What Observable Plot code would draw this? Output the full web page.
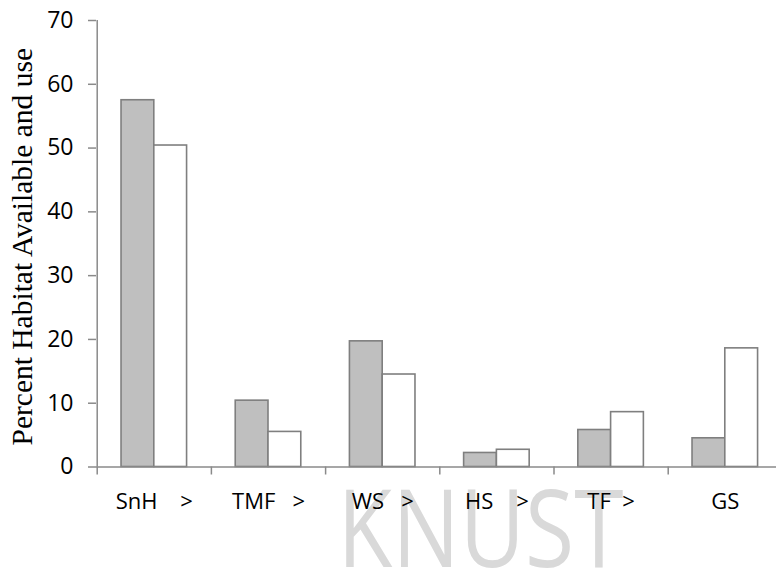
<!DOCTYPE html>
<html>
<head>
<meta charset="utf-8">
<script src="https://cdn.jsdelivr.net/npm/d3@7"></script>
<script src="https://cdn.jsdelivr.net/npm/@observablehq/plot@0.6"></script>
<style>
  html, body { margin: 0; padding: 0; background: #fff; }
  svg text { white-space: pre; }
</style>
</head>
<body>
<div id="chart"></div>
<script>
// Data
const categories = ["SnH", "TMF", "WS", "HS", "TF", "GS"];
const tickLabels = ["SnH    >", "TMF   >", "WS   >", "HS    >", "TF  >", "GS"];
const available = [57.5, 10.4, 19.7, 2.2, 5.8, 4.5];
const used = [50.4, 5.5, 14.5, 2.7, 8.6, 18.6];
const yTicks = [0, 10, 20, 30, 40, 50, 60, 70];
const yTitle = "Percent Habitat Available and use";
const watermark = "KNUST";

const series = [
  {name: "Available", values: available, fill: "#bfbfbf", slot: 0},
  {name: "Use", values: used, fill: "#ffffff", slot: 1}
];
const barFrac = 0.287;
const groupStart = 0.5 - barFrac;
const rows = series.flatMap(s => categories.map((c, i) => ({
  cat: c, i, series: s.name, value: s.values[i], fill: s.fill,
  x1: i + groupStart + s.slot * barFrac,
  x2: i + groupStart + (s.slot + 1) * barFrac
})));

const axisColor = "#8a8a8a";
const barStroke = "#7f7f7f";

const chart = Plot.plot({
  width: 776,
  height: 572,
  marginLeft: 96,
  marginRight: 0,
  marginTop: 20,
  marginBottom: 105.5,
  style: {fontFamily: "'Open Sans', sans-serif", background: "#fff", color: "#000"},
  x: {type: "linear", domain: [0, categories.length], range: [96.7, 96.7 + 114.2 * categories.length]},
  y: {domain: [0, 70]},
  marks: [
    Plot.text([watermark], {
      frameAnchor: "bottom", text: d => d, dx: 44, dy: 100,
      fontSize: 108, fontWeight: 400, fill: "#d9d9d9", lineAnchor: "bottom"
    }),
    Plot.rectY(rows, {
      x1: "x1", x2: "x2", y1: 0, y2: "value",
      fill: "fill", stroke: barStroke, strokeWidth: 1.6
    }),
    Plot.ruleY([0], {stroke: axisColor, strokeWidth: 1.5}),
    Plot.ruleX([0], {y1: 0, y2: 70, stroke: axisColor, strokeWidth: 1.5}),
    Plot.axisY({
      ticks: yTicks, tickSize: 8, tickPadding: 15, fontSize: 23,
      stroke: axisColor, strokeWidth: 1.5, label: null, fill: "#000"
    }),
    Plot.axisX({
      ticks: d3.range(categories.length), tickSize: 8, tickFormat: () => "",
      stroke: axisColor, strokeWidth: 1.5, label: null
    }),
    Plot.axisX({
      ticks: categories.map((c, i) => i + 0.5), tickSize: 0, tickPadding: 26,
      tickFormat: d => tickLabels[Math.floor(d)], fontSize: 22, label: null, fill: "#000"
    }),
    Plot.text([yTitle], {
      frameAnchor: "left", text: d => d, rotate: -90, dx: -65, dy: 3, lineAnchor: "bottom",
      textAnchor: "middle",
      fontFamily: "'Liberation Serif', 'Times New Roman', serif", fontSize: 29.5, fill: "#000"
    })
  ]
});

// Narrow the watermark to match the condensed face in the reference
chart.querySelectorAll("text").forEach(t => {
  if (t.textContent === watermark) {
    t.setAttribute("textLength", "286");
    t.setAttribute("lengthAdjust", "spacingAndGlyphs");
  }
});

document.getElementById("chart").appendChild(chart);
</script>
</body>
</html>
